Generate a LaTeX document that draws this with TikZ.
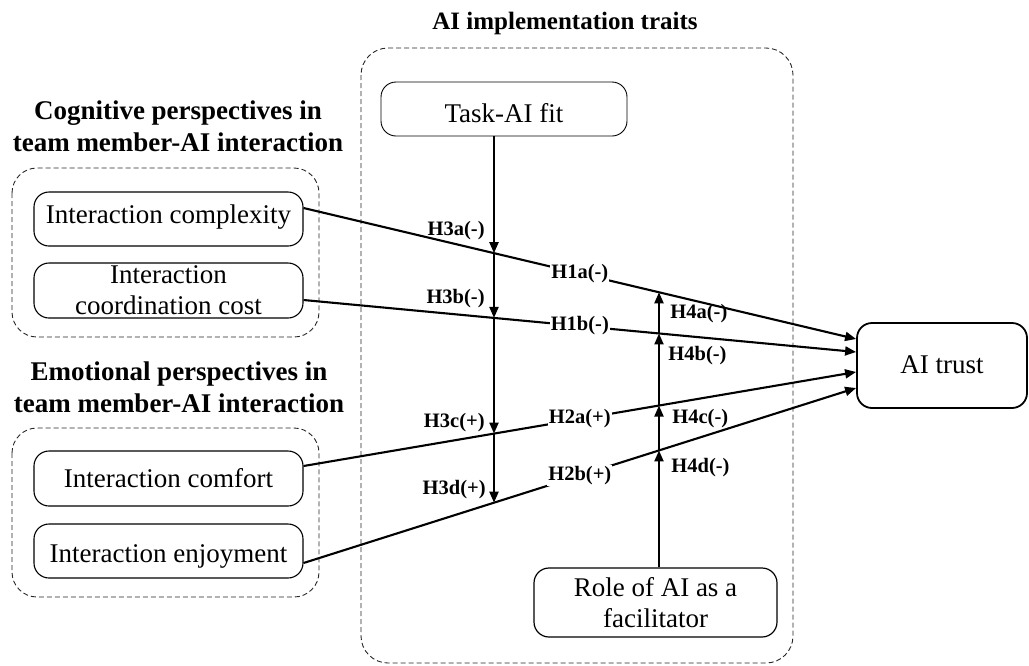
\documentclass[tikz,border=0pt]{standalone}
\usepackage{fontspec}
\setmainfont{Liberation Serif}
\usetikzlibrary{arrows.meta,intersections,calc}
\begin{document}
\begin{tikzpicture}[x=1pt,y=-1pt,
  box/.style={draw, line width=1.1pt, rounded corners=15pt, font=\fontsize{27}{31}\selectfont, inner sep=0pt},
  mbox/.style={box, align=center},
  grp/.style={draw=black!85, line width=0.9pt, dash pattern=on 5pt off 3pt},
  ttl/.style={font=\fontsize{27}{32}\selectfont\bfseries, align=center, inner sep=0pt},
  lbl/.style={font=\fontsize{20.5}{22}\selectfont\bfseries, inner sep=1.2pt},
  conn/.style={line width=2.1pt},
  tip/.style={-{Triangle[length=11pt,width=9pt]}},
]
\useasboundingbox (0,0) rectangle (1029,665);

% group frames
\draw[grp, rounded corners=27pt] (361,48) rectangle (793,663);
\draw[grp, rounded corners=25pt] (12,168) rectangle (319,337);
\draw[grp, rounded corners=25pt] (12,428) rectangle (319,597);

% titles
\node[font=\fontsize{25}{30}\selectfont\bfseries, anchor=base, inner sep=0pt] (t0) at (565,29) {AI implementation traits};
\node[ttl, anchor=base] (t1) at (178,151) {Cognitive perspectives in\\team member-AI interaction};
\node[ttl, anchor=base] (t2) at (179,412) {Emotional perspectives in\\team member-AI interaction};

% boxes
\node[box, minimum width=269pt, minimum height=54pt, text height=19pt, text depth=11pt] (ic) at (168.5,219) {Interaction complexity};
\node[mbox, minimum width=269pt, minimum height=55pt] (icc) at (168.5,290.5) {Interaction\\coordination cost};
\node[box, minimum width=269pt, minimum height=55pt, text height=19pt, text depth=2pt] (icf) at (168.5,478.5) {Interaction comfort};
\node[box, minimum width=269pt, minimum height=54pt, text height=24pt, text depth=2pt] (ie) at (168.5,551) {Interaction enjoyment};
\node[box, line width=0.9pt, minimum width=246pt, minimum height=54pt, text height=28pt, text depth=2pt] (task) at (504,109) {Task-AI fit};
\node[mbox, line width=1.2pt, minimum width=243pt, minimum height=69pt] (role) at (655.5,602.5) {Role of AI as a\\facilitator};
\node[box, line width=1.8pt, minimum width=170pt, minimum height=85pt, text height=19pt, text depth=4pt] (trust) at (942,365.5) {AI trust};

% main effects
\draw[conn, tip, name path=h1a] ([yshift=11pt]ic.east) -- node[lbl, fill=white, pos=0.5] (l1a) {H1a(-)} ([yshift=26.5pt]trust.west);
\draw[conn, tip, name path=h1b] ([yshift=-9.5pt]icc.east) -- node[lbl, fill=white, pos=0.5] (l1b) {H1b(-)} ([yshift=13.5pt]trust.west);
\draw[conn, tip, name path=h2a] ([yshift=12.5pt]icf.east) -- node[lbl, fill=white, pos=0.5] (l2a) {H2a(+)} ([yshift=-6.5pt]trust.west);
\draw[conn, tip, name path=h2b] ([yshift=-12pt]ie.east) -- node[lbl, fill=white, pos=0.5] (l2b) {H2b(+)} ([yshift=-22.5pt]trust.west);

% moderator: task-AI fit
\coordinate (v3s) at ([xshift=-10pt]task.south);
\path[name path=v3] (v3s) -- ++(0,450);
\path[name intersections={of=v3 and h1a, by=i3a}];
\path[name intersections={of=v3 and h1b, by=i3b}];
\path[name intersections={of=v3 and h2a, by=i3c}];
\path[name intersections={of=v3 and h2b, by=i3d}];
\draw[conn, tip] (v3s) -- (i3a);
\draw[conn, tip] (i3a) -- (i3b);
\draw[conn, tip] (i3b) -- (i3c);
\draw[conn, tip] (i3c) -- (i3d);

% moderator: role of AI
\coordinate (v4s) at ([xshift=3.5pt]role.north);
\path[name path=v4] (v4s) -- ++(0,-450);
\path[name intersections={of=v4 and h1a, by=i4a}];
\path[name intersections={of=v4 and h1b, by=i4b}];
\path[name intersections={of=v4 and h2a, by=i4c}];
\path[name intersections={of=v4 and h2b, by=i4d}];
\draw[conn, tip] (v4s) -- (i4d);
\draw[conn, tip] (i4d) -- (i4c);
\draw[conn, tip] (i4c) -- (i4b);
\draw[conn, tip] (i4b) -- (i4a);

% moderation labels
\node[lbl, anchor=base east] (l3a) at (486,235) {H3a(-)};
\node[lbl, anchor=base east] (l3b) at (486,303) {H3b(-)};
\node[lbl, anchor=base east] (l3c) at (486,427) {H3c(+)};
\node[lbl, anchor=base east] (l3d) at (487,494) {H3d(+)};
\node[lbl, anchor=base west] (l4a) at (669,318) {H4a(-)};
\node[lbl, anchor=base west] (l4b) at (667,360) {H4b(-)};
\node[lbl, anchor=base west] (l4c) at (671,423) {H4c(-)};
\node[lbl, anchor=base west] (l4d) at (670,472) {H4d(-)};
\end{tikzpicture}
\end{document}
